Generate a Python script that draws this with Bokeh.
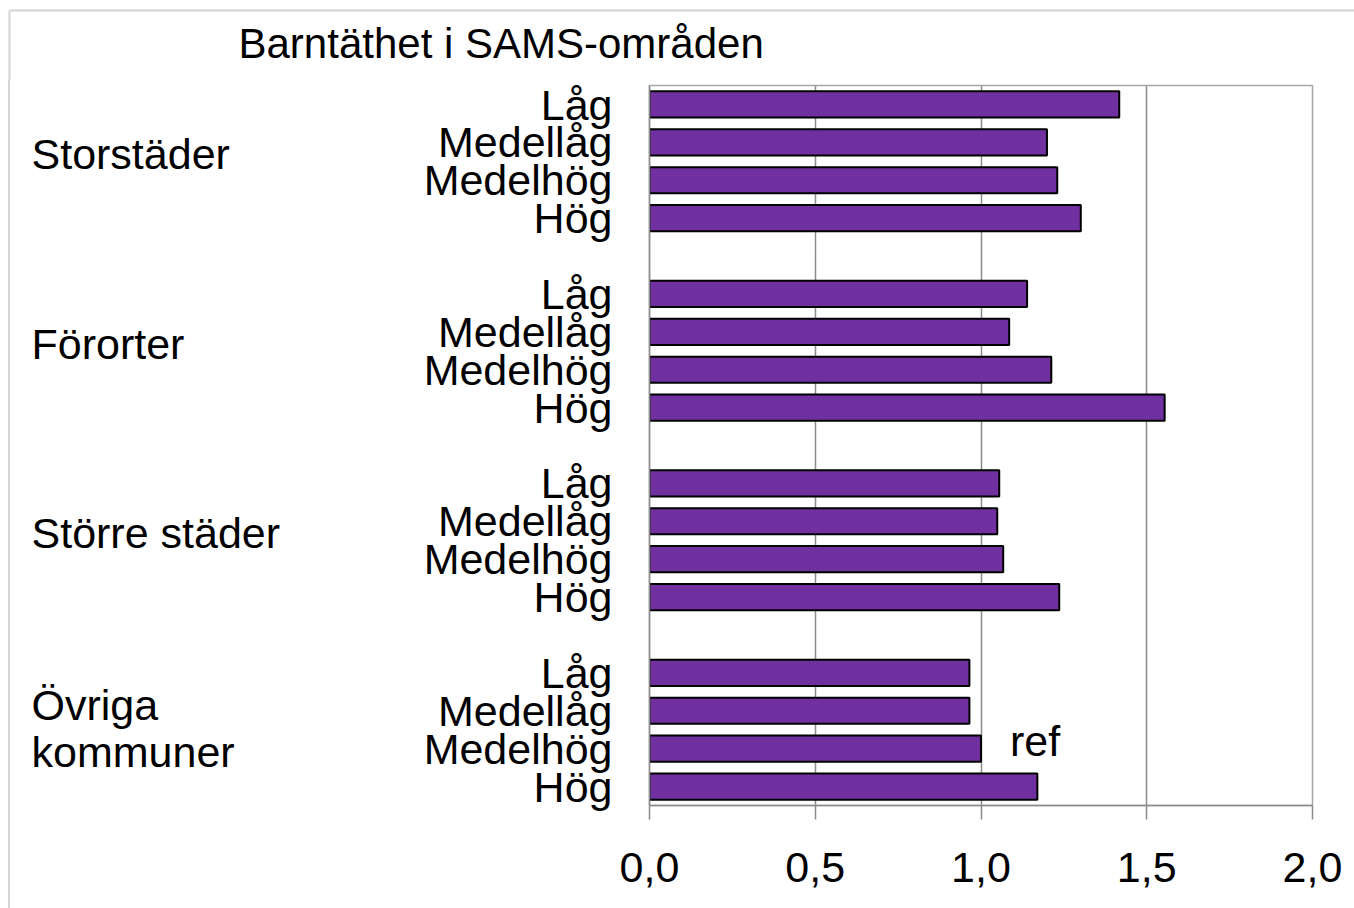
from bokeh.plotting import figure
from bokeh.layouts import column, row
from bokeh.models import Range1d, FixedTicker, CustomJSTickFormatter, Label, ColumnDataSource
from bokeh.core.properties import value
from bokeh.embed import file_html
from bokeh.resources import INLINE

# ---- data ----
title_text = "Barntäthet i SAMS-områden"
groups = [["Storstäder"], ["Förorter"], ["Större städer"], ["Övriga", "kommuner"]]
sublevels = ["Låg", "Medellåg", "Medelhög", "Hög"]
storstader = [1.417, 1.199, 1.230, 1.301]
fororter = [1.139, 1.085, 1.212, 1.554]
storre_stader = [1.055, 1.049, 1.067, 1.236]
ovriga = [0.965, 0.965, 1.000, 1.170]
series = [storstader, fororter, storre_stader, ovriga]
ref_group, ref_level = 3, 2
x_ticks = [0.0, 0.5, 1.0, 1.5, 2.0]

# ---- style / layout constants ----
FONT = "Liberation Sans"
FS = "43px"
PURPLE = "#7030A0"
GRID = "#8c8c8c"
BORDER = "#d4d4d4"
W, H = 1354, 908
TOP_H = 80           # title strip height
LEFT_W = 400         # group-label strip width (incl. 8px margin)
MARGIN = 8
EDGE = 10            # margin + border width of the left strip
FRAME_L, FRAME_R = 649, 1312
FRAME_T, FRAME_B = 85, 805

n_sub = len(sublevels)
slot = n_sub + 1
n_slots = len(groups) * slot - 1

ys, vals, labels = [], [], {}
for g, vals_g in enumerate(series):
    for s, v in enumerate(vals_g):
        y = g * slot + s + 0.5
        ys.append(y)
        vals.append(v)
        labels[y] = sublevels[s]

src = ColumnDataSource(dict(y=ys, v=vals))


def blank(fig):
    fig.outline_line_color = None
    fig.background_fill_color = "white"
    fig.border_fill_color = "white"
    fig.grid.grid_line_color = None
    return fig


# ---- title strip ----
top = blank(figure(width=W, height=TOP_H, output_backend="svg", toolbar_location=None,
                   x_range=Range1d(0, W), y_range=Range1d(TOP_H, 0),
                   x_axis_type=None, y_axis_type=None,
                   min_border=0))
top.text(x=[238], y=[43], text=[title_text], text_font=value(FONT),
         text_font_size=value("42px"), text_color="black",
         text_align="left", text_baseline="middle")
top.line(x=[9, W], y=[10, 10], line_color=BORDER, line_width=2)
top.line(x=[9, 9], y=[10, TOP_H], line_color=BORDER, line_width=2)

# ---- group-label strip (frame is aligned with the main chart's frame) ----
lh = H - TOP_H
lw = LEFT_W - MARGIN
left = blank(figure(width=lw, height=lh, output_backend="svg", toolbar_location=None,
                    x_range=Range1d(0, lw), y_range=Range1d(n_slots, 0),
                    x_axis_type=None, y_axis_type=None, min_border=0))
left.styles = {"margin-left": "%dpx" % MARGIN, "border-left": "2px solid " + BORDER}
gx, gy, gt, goff = [], [], [], []
for g, lines in enumerate(groups):
    yc = g * slot + n_sub / 2
    offs = [-7] if len(lines) == 1 else [-25, 22]
    for line, off in zip(lines, offs):
        gx.append(31 - EDGE)
        gy.append(yc)
        gt.append(line)
        goff.append(off)
left.text(x="x", y="y", text="t", y_offset="o",
          source=ColumnDataSource(dict(x=gx, y=gy, t=gt, o=goff)),
          text_font=value(FONT), text_font_size=value(FS), text_color="black",
          text_align="left", text_baseline="middle")

# ---- main chart ----
mw = W - LEFT_W
p = figure(width=mw, height=lh, output_backend="svg", toolbar_location=None,
           x_range=Range1d(0, 2), y_range=Range1d(n_slots, 0),
           min_border_left=FRAME_L - LEFT_W, min_border_right=W - FRAME_R,
           min_border_top=FRAME_T - TOP_H, min_border_bottom=H - FRAME_B)
p.background_fill_color = "white"
p.border_fill_color = "white"
p.outline_line_color = "#a6a6a6"
p.outline_line_width = 1.5

p.hbar(y="y", right="v", left=0, height=0.69, source=src,
       fill_color=PURPLE, line_color="#000000", line_width=2)

xa = p.xaxis[0]
xa.ticker = FixedTicker(ticks=x_ticks)
xa.formatter = CustomJSTickFormatter(code="return tick.toFixed(1).replace('.', ',');")
xa.major_label_text_font = FONT
xa.major_label_text_font_size = FS
xa.major_label_text_color = "black"
xa.axis_line_color = GRID
xa.axis_line_width = 1.5
xa.major_tick_line_color = GRID
xa.major_tick_line_width = 1.5
xa.major_tick_out = 14
xa.major_tick_in = 0
xa.minor_tick_line_color = None
xa.major_label_standoff = 33

ya = p.yaxis[0]
ya.ticker = FixedTicker(ticks=ys)
ya.major_label_overrides = labels
ya.major_label_text_font = FONT
ya.major_label_text_font_size = FS
ya.major_label_text_color = "black"
ya.axis_line_color = GRID
ya.axis_line_width = 1.5
ya.major_tick_line_color = None
ya.major_tick_out = 0
ya.major_tick_in = 0
ya.minor_tick_line_color = None
ya.major_label_standoff = 37

p.xgrid.grid_line_color = GRID
p.xgrid.grid_line_width = 1.5
p.xgrid.ticker = FixedTicker(ticks=x_ticks)
p.ygrid.grid_line_color = None

p.add_layout(Label(x=series[ref_group][ref_level], y=ref_group * slot + ref_level + 0.5,
                   x_offset=29, y_offset=8, text="ref",
                   text_font=FONT, text_font_size=FS, text_color="black",
                   text_align="left", text_baseline="middle"))

layout = column(top, row(left, p))
open("out.html", "w").write(file_html(layout, INLINE))
